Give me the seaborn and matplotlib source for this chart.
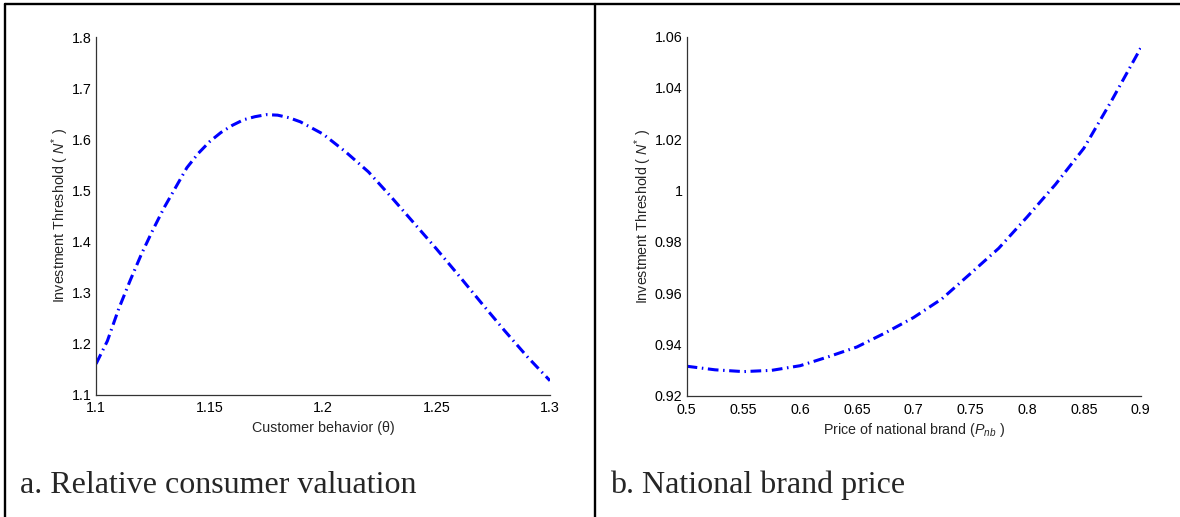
import numpy as np
import pandas as pd
import matplotlib
matplotlib.use('Agg')
import matplotlib.pyplot as plt
from matplotlib.lines import Line2D
import seaborn as sns

# panel a: investment threshold vs customer behavior (theta)
theta = [1.100, 1.105, 1.110, 1.115, 1.120, 1.125, 1.130, 1.135, 1.140, 1.145,
         1.150, 1.155, 1.160, 1.165, 1.170, 1.175, 1.180, 1.185, 1.190, 1.195,
         1.200, 1.210, 1.220, 1.230, 1.240, 1.250, 1.260, 1.270, 1.280, 1.290, 1.300]
thresh_a = [1.160, 1.205, 1.268, 1.323, 1.375, 1.422, 1.466, 1.505, 1.544, 1.572,
            1.595, 1.613, 1.627, 1.638, 1.644, 1.648, 1.647, 1.642, 1.634, 1.622,
            1.610, 1.575, 1.536, 1.487, 1.436, 1.385, 1.332, 1.278, 1.225, 1.174, 1.127]

# panel b: investment threshold vs national brand price
p_nb = [0.500, 0.525, 0.550, 0.575, 0.600, 0.625, 0.650, 0.675, 0.700,
        0.725, 0.750, 0.775, 0.800, 0.825, 0.850, 0.875, 0.900]
thresh_b = [0.9315, 0.9301, 0.9294, 0.9299, 0.9317, 0.9352, 0.9390, 0.9445, 0.9505,
            0.9578, 0.9676, 0.9775, 0.9897, 1.0024, 1.0165, 1.0355, 1.0555]

xticks_a = [1.1, 1.15, 1.2, 1.25, 1.3]
yticks_a = [1.1, 1.2, 1.3, 1.4, 1.5, 1.6, 1.7, 1.8]
xticks_b = [0.5, 0.55, 0.6, 0.65, 0.7, 0.75, 0.8, 0.85, 0.9]
yticks_b = [0.92, 0.94, 0.96, 0.98, 1.0, 1.02, 1.04, 1.06]

captions = ['a. Relative consumer valuation', 'b. National brand price']

sns.set_style('white')
plt.rcParams['font.family'] = ['Liberation Sans', 'DejaVu Sans']
plt.rcParams['mathtext.fontset'] = 'custom'
plt.rcParams['mathtext.rm'] = 'Liberation Sans'
plt.rcParams['mathtext.it'] = 'Liberation Sans:italic'

fig = plt.figure(figsize=(11.8, 5.17), dpi=100)
ax_a = fig.add_axes([0.0814, 0.2369, 0.3847, 0.6915])
ax_b = fig.add_axes([0.5819, 0.2346, 0.3847, 0.6944])

dash = (0, (3.5, 1.5, 0.5, 1.5))
df_a = pd.DataFrame({'theta': theta, 'N': thresh_a})
df_b = pd.DataFrame({'p': p_nb, 'N': thresh_b})
sns.lineplot(data=df_a, x='theta', y='N', ax=ax_a, color='#0000ff', lw=2.2, linestyle=dash)
sns.lineplot(data=df_b, x='p', y='N', ax=ax_b, color='#0000ff', lw=2.2, linestyle=dash)

def fmt(v):
    return f'{v:g}'

fs = 10.3
for ax, xt, yt in [(ax_a, xticks_a, yticks_a), (ax_b, xticks_b, yticks_b)]:
    ax.set_xlim(xt[0], xt[-1])
    ax.set_ylim(yt[0], yt[-1])
    ax.set_xticks(xt)
    ax.set_xticklabels([fmt(v) for v in xt])
    ax.set_yticks(yt)
    ax.set_yticklabels([fmt(v) for v in yt])
    sns.despine(ax=ax)
    for s in ['left', 'bottom']:
        ax.spines[s].set_color('#333333')
        ax.spines[s].set_linewidth(0.9)
    ax.tick_params(direction='in', length=3, width=0.9, color='#333333',
                   labelsize=fs, labelcolor='black')
    ax.tick_params(axis='x', pad=5)
    ax.tick_params(axis='y', pad=3)
    ax.set_ylabel(r'Investment Threshold ( $N^{*}$ )', fontsize=fs, labelpad=0.5)

ax_a.set_xlabel(r'Customer behavior (θ)', fontsize=fs, labelpad=4)
ax_b.set_xlabel(r'Price of national brand ($P_{nb}$ )', fontsize=fs, labelpad=3)

# captions below panels, serif like the document text
fig.text(20 / 1180, 1 - 493 / 517, captions[0], family='Liberation Serif',
         fontsize=23, va='baseline', ha='left')
fig.text(610 / 1180, 1 - 493 / 517, captions[1], family='Liberation Serif',
         fontsize=23, va='baseline', ha='left')

# table frame around the panels
lw_frame = 1.7
fig.add_artist(Line2D([5 / 1180, 1], [1 - 4 / 517] * 2, color='black', lw=lw_frame))
fig.add_artist(Line2D([5 / 1180] * 2, [0, 1 - 4 / 517], color='black', lw=lw_frame))
fig.add_artist(Line2D([595 / 1180] * 2, [0, 1 - 4 / 517], color='black', lw=lw_frame))

fig.savefig('out.png', dpi=100)
plt.close(fig)
